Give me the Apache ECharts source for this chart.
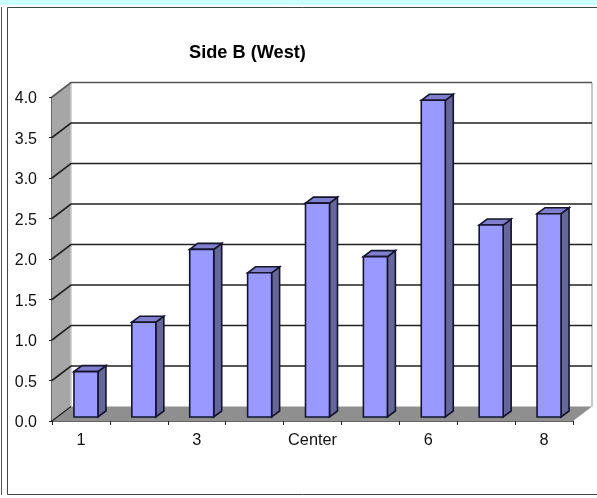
<!DOCTYPE html>
<html>
<head>
<meta charset="utf-8">
<style>html,body{margin:0;padding:0;background:#fff}#chart{width:597px;height:498px}</style>
<script src="https://cdn.jsdelivr.net/npm/echarts@6/dist/echarts.min.js"></script>
</head>
<body>
<div id="chart"></div>
<script>
// Side B (West) readings by station
const categories = ['1', '2', '3', '4', 'Center', '5', '6', '7', '8'];
const values = [0.56, 1.17, 2.07, 1.78, 2.64, 1.98, 3.91, 2.37, 2.51];
const gridValues = [0.5, 1, 1.5, 2, 2.5, 3, 3.5, 4];
const yMax = 4;
const yStep = 0.5;

// Oblique projection used for the pseudo-3D box
const wallDx = 19, wallDy = -14.5;
const barDx = 8, barDy = -6, barShiftX = 5, barShiftY = -4, barWidth = 24;
const edge = '#14142e';

const poly = (points, fill, stroke, lw) => ({
  type: 'polygon',
  shape: { points },
  style: { fill, stroke: stroke || null, lineWidth: lw || 0 }
});
const line = (points, stroke, lw) => ({
  type: 'polyline',
  shape: { points },
  style: { fill: null, stroke, lineWidth: lw }
});

function renderBox(params, api) {
  const c = params.coordSys;
  const bottom = c.y + c.height, top = c.y, left = c.x, right = c.x + c.width;
  return {
    type: 'group',
    children: [
      poly([[left, top], [left + wallDx, top + wallDy], [left + wallDx, bottom + wallDy], [left, bottom]], '#a6a6a6'),
      poly([[left, bottom], [left + wallDx, bottom + wallDy], [right + wallDx, bottom + wallDy], [right, bottom]], '#8f8f8f'),
      line([[left + wallDx, top + wallDy], [left + wallDx, bottom + wallDy]], '#c8c8c8', 1.5),
      line([[right + wallDx, top + wallDy], [right + wallDx, bottom + wallDy]], '#b4b4b4', 1.5),
      line([[left, bottom], [left + wallDx, bottom + wallDy]], '#222', 1.2)
    ]
  };
}

function renderGridLine(params, api) {
  const p = api.coord([0, api.value(0)]);
  const c = params.coordSys;
  const isTop = api.value(0) === yMax;
  return line(
    [[c.x, p[1]], [c.x + wallDx, p[1] + wallDy], [c.x + c.width + wallDx, p[1] + wallDy]],
    isTop ? '#555' : '#222', 1.6
  );
}

function renderBar(params, api) {
  const i = api.value(0);
  const base = api.coord([i, 0]);
  const head = api.coord([i, api.value(1)]);
  const l = base[0] + barShiftX - barWidth / 2;
  const r = l + barWidth;
  const b = base[1] + barShiftY;
  const t = head[1] + barShiftY;
  return {
    type: 'group',
    children: [
      poly([[r, t], [r + barDx, t + barDy], [r + barDx, b + barDy], [r, b]], '#666699', edge, 1.6),
      poly([[l, t], [l + barDx, t + barDy], [r + barDx, t + barDy], [r, t]], '#7f7fcc', edge, 1.6),
      poly([[l, t], [r, t], [r, b], [l, b]], '#9999ff', edge, 1.6)
    ]
  };
}

const chart = echarts.init(document.getElementById('chart'), null, { renderer: 'canvas' });
chart.setOption({
  animation: false,
  backgroundColor: '#ffffff',
  title: {
    text: 'Side B (West)',
    left: 184,
    top: 39,
    textStyle: { fontFamily: 'Liberation Sans', fontSize: 18.2, fontWeight: 'bold', color: '#000' }
  },
  grid: { left: 52, right: 24, top: 97, height: 324 },
  xAxis: {
    type: 'category',
    data: categories,
    boundaryGap: true,
    axisLine: { lineStyle: { color: '#333', width: 1.5 } },
    axisTick: { show: true, alignWithLabel: false, interval: 0, length: 4, lineStyle: { color: '#222', width: 1 } },
    axisLabel: { interval: 1, margin: 12, fontFamily: 'Liberation Sans', fontSize: 16.3, color: '#111' },
    splitLine: { show: false }
  },
  yAxis: {
    type: 'value',
    min: 0,
    max: yMax,
    interval: yStep,
    axisLine: { show: true, lineStyle: { color: '#333', width: 1.5 } },
    axisTick: { show: true, length: 3, lineStyle: { color: '#222', width: 1 } },
    axisLabel: {
      margin: 15,
      verticalAlign: 'top',
      lineHeight: 4,
      fontFamily: 'Liberation Sans',
      fontSize: 16,
      color: '#111',
      formatter: v => v.toFixed(1)
    },
    splitLine: { show: false }
  },
  graphic: [
    { type: 'rect', shape: { x: 0, y: 0, width: 597, height: 5 }, style: { fill: '#ccffff' }, silent: true },
    { type: 'polyline', shape: { points: [[597, 7.5], [7.5, 7.5], [7.5, 494.5], [597, 494.5]] }, style: { fill: null, stroke: '#444', lineWidth: 1 }, silent: true },
    { type: 'line', shape: { x1: 1.5, y1: 7, x2: 1.5, y2: 495 }, style: { stroke: '#555', lineWidth: 1 }, silent: true }
  ],
  series: [
    { type: 'custom', name: 'box', data: [[0]], clip: false, z: 1, silent: true, renderItem: renderBox },
    { type: 'custom', name: 'gridlines', data: gridValues.map(v => [v]), encode: { y: 0 }, clip: false, z: 2, silent: true, renderItem: renderGridLine },
    { type: 'custom', name: 'Side B', data: values.map((v, i) => [i, v]), encode: { x: 0, y: 1 }, clip: false, z: 3, renderItem: renderBar }
  ]
});
</script>
</body>
</html>
